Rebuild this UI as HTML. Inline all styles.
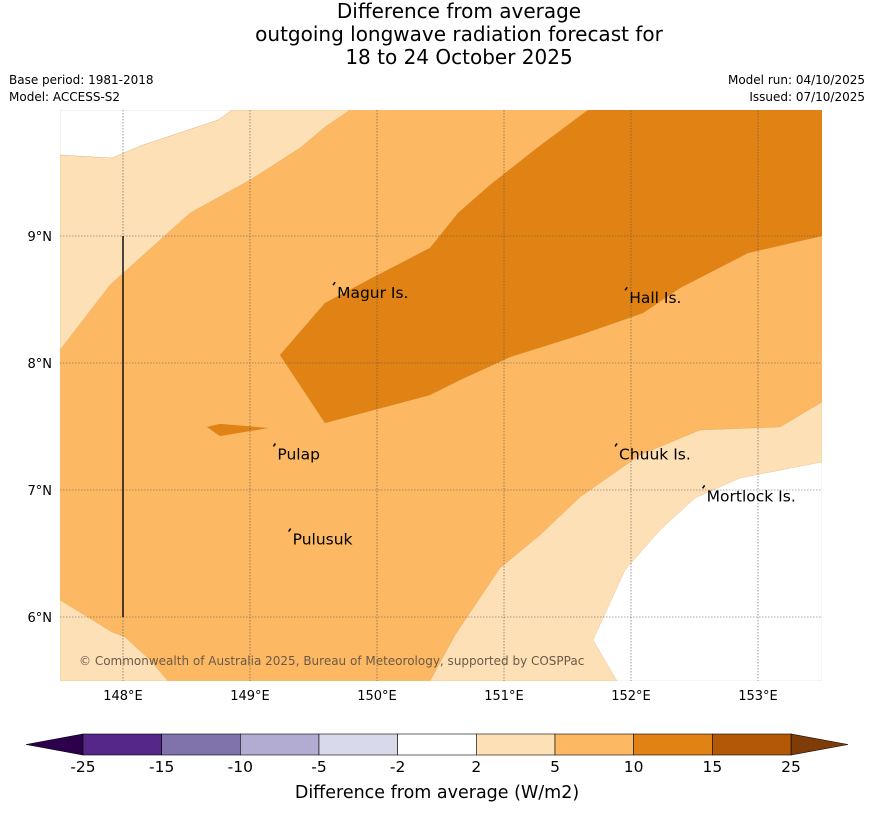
<!DOCTYPE html>
<html><head><meta charset="utf-8"><style>
body{margin:0;background:#fff;font-family:"Liberation Sans","DejaVu Sans",sans-serif;}
#wrap{position:relative;width:873px;height:816px;overflow:hidden}
.t{position:absolute;white-space:nowrap}
</style></head><body>
<div id="wrap">
<div class="t" style="left:0;width:918px;top:0;text-align:center;font-size:20px;line-height:23px;font-family:'DejaVu Sans',sans-serif">Difference from average<br>outgoing longwave radiation forecast for<br>18 to 24 October 2025</div>
<div class="t" style="left:9px;top:72px;font-size:12px;line-height:17px;font-family:'DejaVu Sans',sans-serif">Base period: 1981-2018<br>Model: ACCESS-S2</div>
<div class="t" style="right:8px;top:72px;font-size:12px;line-height:17px;text-align:right;font-family:'DejaVu Sans',sans-serif">Model run: 04/10/2025<br>Issued: 07/10/2025</div>
<svg id="map" width="873" height="816" style="position:absolute;left:0;top:0" font-family="DejaVu Sans, sans-serif"></svg>
</div>
<script>
const lonTicks=[148,149,150,151,152,153];
const latTicks=[9,8,7,6];
const lonTickLabels=["148°E","149°E","150°E","151°E","152°E","153°E"];
const latTickLabels=["9°N","8°N","7°N","6°N"];
const places=["Magur Is.","Hall Is.","Pulap","Chuuk Is.","Mortlock Is.","Pulusuk"];
const placeLon=[149.67,151.97,149.20,151.89,152.58,149.32];
const placeLat=[8.55,8.51,7.28,7.28,6.95,6.61];
const levels=["-25","-15","-10","-5","-2","2","5","10","15","25"];
const levelColors=["#542788","#8073ac","#b2abd2","#d8daeb","#ffffff","#fee0b6","#fdb863","#e08214","#b35806"];
const X0=60,X1=822,Y0=110,Y1=681;
const x=lon=>123+(lon-148)*127, y=lat=>236-(lat-9)*127;
const inv=(px,py)=>[148+(px-123)/127,9-(py-236)/127];
const P=a=>a.map(p=>inv(p[0],p[1]));
const whiteTL=P([[60,110],[60,155],[112,158],[140,146],[218,120],[232,110]]);
const lightTL=P([[60,155],[112,158],[140,146],[218,120],[232,110],[350,110],[325,127],[300,148],[250,180],[190,213],[110,285],[60,350]]);
const darkBand=P([[280,355],[325,303],[372,278],[430,248],[458,213],[490,185],[537,148],[588,110],[822,110],[822,236],[748,253],[680,288],[643,313],[580,335],[510,357],[460,380],[430,395],[325,423]]);
const darkBlob=P([[207,427],[220,424],[268,428],[220,436]]);
const lightBL=P([[60,600],[112,632],[125,637],[150,660],[168,681],[60,681]]);
const lightBR=P([[430,681],[455,635],[500,568],[540,535],[580,497],[640,455],[700,430],[780,427],[822,402],[822,681]]);
const whiteBR=P([[593,640],[625,570],[660,530],[695,498],[740,478],[822,462],[822,681],[617,681]]);
const svg=document.getElementById('map');const NS='http://www.w3.org/2000/svg';
function mk(t,a,p){const e=document.createElementNS(NS,t);for(const k in a)e.setAttribute(k,a[k]);(p||svg).appendChild(e);return e;}
const clip=mk('clipPath',{id:'cl'});mk('rect',{x:X0,y:Y0,width:X1-X0,height:Y1-Y0},clip);
const g=mk('g',{'clip-path':'url(#cl)'});

const bg=mk('rect',{x:X0,y:Y0,width:X1-X0,height:Y1-Y0,fill:levelColors[6]},g);

function poly(pts,fill,name){const e=mk('polygon',{points:pts.map(p=>x(p[0])+','+y(p[1])).join(' '),fill:fill,stroke:'#c98a3a','stroke-width':0.4,'stroke-opacity':0.5},g);
}
poly(lightTL,levelColors[5],'band-2-5-northwest');poly(whiteTL,'#fff','band-neutral-northwest');
poly(darkBand,levelColors[7],'band-10-15');poly(darkBlob,levelColors[7],'band-10-15-small');
poly(lightBL,levelColors[5],'band-2-5-southwest');poly(lightBR,levelColors[5],'band-2-5-southeast');poly(whiteBR,'#fff','band-neutral-southeast');
lonTicks.forEach((v,i)=>{const l=mk('line',{x1:x(v),x2:x(v),y1:Y0,y2:Y1,stroke:'#555','stroke-width':0.6,'stroke-dasharray':'1.5,1.5'},g);

const t=mk('text',{x:x(v),y:700,'text-anchor':'middle','font-size':13});t.textContent=lonTickLabels[i];
});
latTicks.forEach((v,i)=>{const l=mk('line',{x1:X0,x2:X1,y1:y(v),y2:y(v),stroke:'#555','stroke-width':0.6,'stroke-dasharray':'1.5,1.5'},g);

const t=mk('text',{x:52,y:y(v)+5,'text-anchor':'end','font-size':13});t.textContent=latTickLabels[i];
});
const vl=mk('line',{x1:x(148),x2:x(148),y1:y(9),y2:y(6),stroke:'#111','stroke-width':1.5},g);

places.forEach((n,i)=>{const t=mk('text',{x:x(placeLon[i])+2,y:y(placeLat[i])+5,'font-size':15.5});t.textContent=n;

const d=mk('path',{d:`M${x(placeLon[i])-2},${y(placeLat[i])-8} l2,-3`,stroke:'#000','stroke-width':1.5,fill:'none'});
});
const cp=mk('text',{x:79,y:665,'font-size':12,fill:'#6b5a48'});cp.textContent='© Commonwealth of Australia 2025, Bureau of Meteorology, supported by COSPPac';

const cbX0=83,cbX1=791,cbY=734,cbH=21,seg=(cbX1-cbX0)/(levels.length-1);
const lt=mk('polygon',{points:`26,${cbY+cbH/2} ${cbX0},${cbY} ${cbX0},${cbY+cbH}`,fill:'#2d004b',stroke:'#000','stroke-width':0.6});

const rt=mk('polygon',{points:`848,${cbY+cbH/2} ${cbX1},${cbY} ${cbX1},${cbY+cbH}`,fill:'#7f3b08',stroke:'#000','stroke-width':0.6});

levelColors.forEach((c,i)=>{const r=mk('rect',{x:cbX0+i*seg,y:cbY,width:seg,height:cbH,fill:c,stroke:'#000','stroke-width':0.6});
});
levels.forEach((v,i)=>{const t=mk('text',{x:cbX0+i*seg,y:772,'text-anchor':'middle','font-size':15.5});t.textContent=v;
});
const ct=mk('text',{x:437,y:798,'text-anchor':'middle','font-size':17.5});ct.textContent='Difference from average (W/m2)';

</script></body></html>
